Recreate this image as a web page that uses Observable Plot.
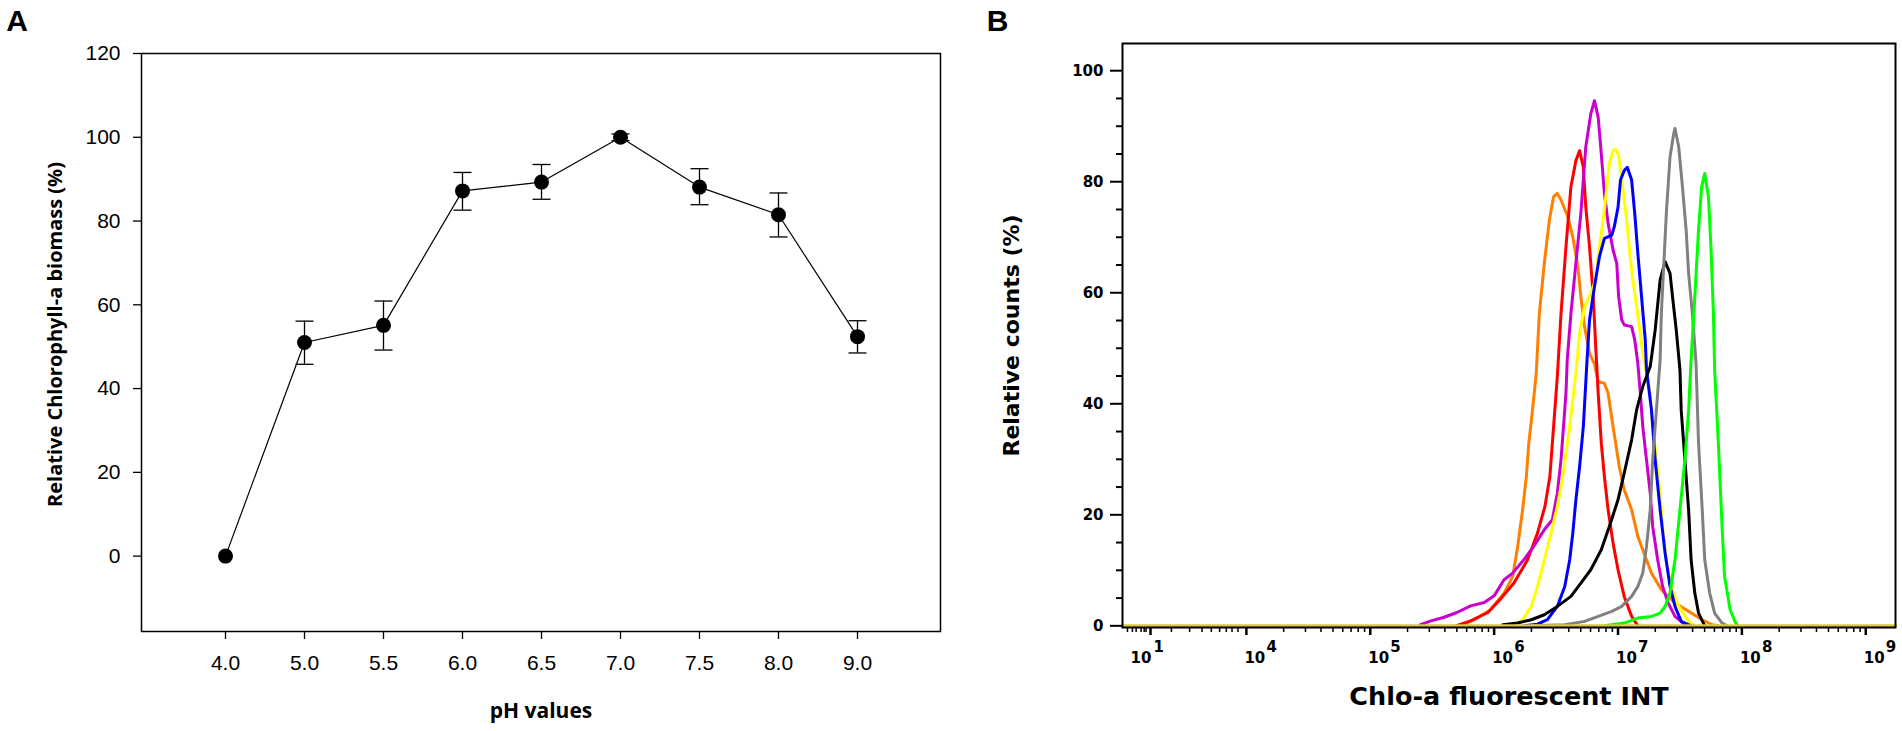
<!DOCTYPE html>
<html>
<head>
<meta charset="utf-8">
<script src="https://cdn.jsdelivr.net/npm/d3@7"></script>
<script src="https://cdn.jsdelivr.net/npm/@observablehq/plot@0.6"></script>
<style>
html, body { margin: 0; padding: 0; background: #fff; overflow: hidden; }
#wrap { display: flex; width: 1902px; height: 731px; }
#wrap svg { display: block; flex: none; max-width: none; }
</style>
</head>
<body>
<div id="wrap"></div>
<script>
// ---------- Panel A data ----------
const phLabels = ["4.0", "5.0", "5.5", "6.0", "6.5", "7.0", "7.5", "8.0", "9.0"];
const biomass  = [0, 51.0, 55.1, 87.2, 89.3, 100, 88.1, 81.5, 52.4];
const errLow   = [null, 45.8, 49.2, 82.6, 85.2, 99.2, 83.9, 76.2, 48.5];
const errHigh  = [null, 56.1, 60.9, 91.6, 93.5, 100.8, 92.5, 86.7, 56.2];
const yTicksA  = [0, 20, 40, 60, 80, 100, 120];

// ---------- Panel B data (x = log10 of fluorescence, y = relative counts %) ----------
const orange = [[5.73,0],[5.84,1.1],[5.97,2.9],[6.08,5.9],[6.15,8.9],[6.19,14.3],[6.23,20.9],[6.26,26.9],[6.28,32.9],[6.31,38.9],[6.34,45.5],[6.365,56.3],[6.405,65.3],[6.446,73.1],[6.48,77.3],[6.51,77.9],[6.54,76.7],[6.595,73.7],[6.635,70.1],[6.676,64.7],[6.70,59.3],[6.73,53.9],[6.77,49.1],[6.81,47.2],[6.84,44.0],[6.89,43.7],[6.92,41.9],[6.96,35.9],[7.01,28.7],[7.05,24.5],[7.11,20.9],[7.16,16.1],[7.22,12.5],[7.27,9.5],[7.35,6.5],[7.46,4.1],[7.57,2.6],[7.68,1.1],[7.76,0.2],[7.81,0]];
const red = [[5.69,0],[5.81,0.9],[5.95,2.4],[6.05,4.8],[6.16,7.7],[6.27,11.9],[6.35,16.7],[6.41,21.5],[6.45,26.9],[6.47,32.9],[6.49,38.9],[6.51,44.9],[6.54,56.3],[6.58,68.3],[6.62,79.1],[6.66,83.8],[6.69,85.6],[6.72,82.6],[6.74,75.4],[6.77,68.3],[6.80,59.3],[6.82,50.3],[6.84,41.9],[6.865,32.9],[6.89,26.9],[6.92,20.9],[6.96,14.9],[7.0,10.1],[7.05,5.3],[7.11,1.7],[7.16,0]];
const magenta = [[5.405,0.2],[5.49,0.9],[5.59,1.5],[5.70,2.4],[5.81,3.6],[5.92,4.2],[6.0,5.4],[6.08,8.3],[6.15,9.5],[6.24,11.9],[6.32,14.3],[6.405,17.3],[6.47,19.1],[6.51,23.9],[6.54,29.9],[6.56,35.9],[6.58,41.9],[6.59,47.9],[6.62,56.3],[6.66,65.3],[6.70,74.3],[6.74,86.3],[6.78,92.2],[6.81,94.6],[6.84,91.6],[6.865,85.0],[6.89,77.9],[6.92,72.5],[6.96,67.7],[6.99,65.3],[7.005,59.3],[7.03,55.1],[7.05,54.2],[7.11,53.9],[7.135,51.5],[7.16,47.3],[7.18,41.9],[7.2,35.9],[7.23,29.9],[7.26,23.9],[7.28,17.9],[7.32,11.9],[7.36,7.1],[7.405,4.1],[7.46,1.7],[7.54,0.2],[7.59,0]];
const yellow = [[6.15,0],[6.23,1.1],[6.30,3.5],[6.35,7.1],[6.405,11.9],[6.46,16.7],[6.51,21.5],[6.55,26.3],[6.58,31.1],[6.61,35.9],[6.635,40.7],[6.66,45.5],[6.69,52.7],[6.73,57.5],[6.78,59.9],[6.82,62.3],[6.85,68.3],[6.88,73.1],[6.905,77.9],[6.93,83.2],[6.96,85.6],[6.98,85.9],[7.005,84.8],[7.03,80.3],[7.07,73.1],[7.095,67.1],[7.12,62.3],[7.15,57.5],[7.18,52.7],[7.20,49.1],[7.23,45.5],[7.26,41.9],[7.28,35.9],[7.31,29.9],[7.34,23.9],[7.36,17.9],[7.39,11.9],[7.43,7.1],[7.49,3.5],[7.57,0.8],[7.62,0]];
const blue = [[6.24,0],[6.35,0.3],[6.43,1.1],[6.51,3.5],[6.57,7.1],[6.61,11.9],[6.635,16.7],[6.66,22.7],[6.69,28.7],[6.72,35.9],[6.735,41.9],[6.75,47.9],[6.77,55.1],[6.81,61.1],[6.85,66.5],[6.89,69.8],[6.95,70.4],[6.97,71.9],[7.0,75.4],[7.02,80.3],[7.05,82.0],[7.075,82.6],[7.11,80.3],[7.135,74.3],[7.16,67.1],[7.19,59.3],[7.22,51.5],[7.23,46.1],[7.27,38.9],[7.30,29.9],[7.34,20.9],[7.38,13.1],[7.42,7.1],[7.46,3.5],[7.51,0.8],[7.59,0]];
const black = [[6.07,0.2],[6.19,0.5],[6.30,1.1],[6.405,2.0],[6.51,3.5],[6.62,5.3],[6.70,7.7],[6.78,10.1],[6.865,13.7],[6.93,17.9],[7.0,22.7],[7.05,27.5],[7.11,33.5],[7.15,38.9],[7.20,43.1],[7.26,46.7],[7.30,53.3],[7.34,62.3],[7.38,65.6],[7.42,63.5],[7.44,59.3],[7.47,53.3],[7.50,46.1],[7.51,38.9],[7.54,29.9],[7.57,20.9],[7.59,11.9],[7.62,5.9],[7.65,2.3],[7.70,0]];
const gray = [[6.30,0],[6.57,0.2],[6.73,0.8],[6.84,1.7],[6.95,2.6],[7.03,3.5],[7.11,5.3],[7.16,7.1],[7.20,9.5],[7.23,14.3],[7.26,20.9],[7.28,29.9],[7.31,38.9],[7.34,47.9],[7.35,56.3],[7.39,74.3],[7.42,84.5],[7.45,88.7],[7.46,89.6],[7.49,86.3],[7.52,79.1],[7.55,71.3],[7.57,63.5],[7.60,56.3],[7.63,47.3],[7.65,32.9],[7.68,20.9],[7.70,11.9],[7.74,5.9],[7.78,2.3],[7.84,0.5],[7.88,0]];
const green = [[6.89,0],[7.05,0.5],[7.16,1.4],[7.27,1.7],[7.34,2.3],[7.38,3.5],[7.42,5.9],[7.46,11.9],[7.50,20.9],[7.54,29.9],[7.57,38.9],[7.59,47.9],[7.62,59.3],[7.65,71.3],[7.675,79.1],[7.70,81.5],[7.73,77.3],[7.75,68.3],[7.77,56.3],[7.78,46.1],[7.81,32.9],[7.84,17.9],[7.86,8.9],[7.905,2.9],[7.95,0.5],[7.97,0]];
const flat = [[3.0,0],[9.24,0]];

const seriesNames  = ["orange", "red", "magenta", "yellow", "blue", "black", "gray", "green", "flat"];
const seriesData   = [orange, red, magenta, yellow, blue, black, gray, green, flat];
const seriesColors = ["#ff8000", "#ff0000", "#cc00cc", "#ffff00", "#0000ff", "#000000", "#808080", "#00ff00", "#d8c840"];

const yMajorB = [0, 20, 40, 60, 80, 100];
const yMinorB = [5, 10, 15, 25, 30, 35, 45, 50, 55, 65, 70, 75, 85, 90, 95];
const xMajorB = [3.226, 4, 5, 6, 7, 8, 9];
const xLabelExp = ["1", "4", "5", "6", "7", "8", "9"];
const xMinorLeft = [3.04, 3.08, 3.11, 3.15, 3.175, 3.19, 3.395, 3.542, 3.642, 3.717, 3.784, 3.838, 3.884, 3.932];

// ---------- Panel A ----------
const rowsA = phLabels.map((p, i) => ({ph: p, v: biomass[i], lo: errLow[i], hi: errHigh[i]}));
const errRows = rowsA.filter(d => d.lo != null);
const capSymbol = {
  draw(ctx, size) {
    const w = Math.sqrt(size / Math.PI);
    ctx.moveTo(-w, 0);
    ctx.lineTo(w, 0);
  }
};

const plotA = Plot.plot({
  width: 960, height: 731,
  marginLeft: 141, marginRight: 20, marginTop: 53, marginBottom: 100,
  style: {fontFamily: "'Liberation Sans', Arial, sans-serif", fontSize: "21px", color: "#000", background: "#fff", overflow: "visible"},
  x: {type: "point", domain: phLabels, padding: 1, axis: null},
  y: {domain: [-18, 120], axis: null},
  marks: [
    Plot.frame({stroke: "#000", strokeWidth: 1.5}),
    Plot.axisY({ticks: yTicksA, tickSize: 8, tickPadding: 13, label: null, strokeWidth: 1.3}),
    Plot.axisX({tickSize: 8, tickPadding: 16, label: null, strokeWidth: 1.3}),
    Plot.ruleX(errRows, {x: "ph", y1: "lo", y2: "hi", stroke: "#000", strokeWidth: 1.3}),
    Plot.dot(errRows, {x: "ph", y: "lo", symbol: capSymbol, r: 9, stroke: "#000", strokeWidth: 1.3, fill: "none"}),
    Plot.dot(errRows, {x: "ph", y: "hi", symbol: capSymbol, r: 9, stroke: "#000", strokeWidth: 1.3, fill: "none"}),
    Plot.line(rowsA, {x: "ph", y: "v", stroke: "#000", strokeWidth: 1.2}),
    Plot.dot(rowsA, {x: "ph", y: "v", r: 7.5, fill: "#000", stroke: "none"}),
    Plot.text(["pH values"], {text: d => d, frameAnchor: "bottom", dy: 80, lineAnchor: "middle", textAnchor: "middle",
      fontFamily: "'Open Sans', sans-serif", fontWeight: "bold", fontSize: 21}),
    Plot.text(["Relative Chlorophyll-a biomass (%)"], {text: d => d, frameAnchor: "left", dx: -86, dy: -8, rotate: -90,
      lineAnchor: "middle", textAnchor: "middle",
      fontFamily: "'Open Sans', sans-serif", fontWeight: "bold", fontSize: 20}),
    Plot.text(["A"], {text: d => d, frameAnchor: "top-left", dx: -124.5, dy: -32, lineAnchor: "middle", textAnchor: "middle",
      fontFamily: "'Liberation Sans', Arial, sans-serif", fontWeight: "bold", fontSize: 30})
  ]
});

// ---------- Panel B ----------
const rowsB = seriesData.flatMap((arr, i) => arr.map(([u, v]) => ({s: seriesNames[i], u, v})));
const xMinorB = [...xMinorLeft];
for (let d = 4; d <= 8; d++) for (let k = 2; k <= 9; k++) xMinorB.push(d + Math.log10(k));
const labelRows = xMajorB.map((u, i) => ({u, exp: xLabelExp[i], first: i === 0}));

const fontB = "'DejaVu Sans', Verdana, sans-serif";
const plotB = Plot.plot({
  width: 942, height: 731,
  marginLeft: 162, marginRight: 7, marginTop: 43, marginBottom: 104,
  style: {fontFamily: fontB, fontSize: "15px", fontWeight: "bold", color: "#000", background: "#fff", overflow: "visible"},
  x: {domain: [3.0, 9.24], axis: null},
  y: {domain: [-0.3, 104.9], axis: null},
  color: {domain: seriesNames, range: seriesColors},
  marks: [
    Plot.line(rowsB, {x: "u", y: "v", z: "s", stroke: "s", strokeWidth: 3, strokeLinejoin: "round"}),
    Plot.frame({stroke: "#000", strokeWidth: 2}),
    Plot.axisY({ticks: yMajorB, tickSize: 12, tickPadding: 7, strokeWidth: 2, label: null}),
    Plot.axisY({ticks: yMinorB, tickSize: 6, strokeWidth: 2, fill: "none", label: null}),
    Plot.axisX({ticks: xMajorB, tickSize: 8, strokeWidth: 2.5, fill: "none", label: null}),
    Plot.axisX({ticks: xMinorB, tickSize: 5, strokeWidth: 1.5, fill: "none", label: null}),
    Plot.text(labelRows.filter(d => !d.first), {x: "u", text: () => "10", frameAnchor: "bottom", dy: 31, dx: -2, textAnchor: "start", lineAnchor: "middle"}),
    Plot.text(labelRows.filter(d => !d.first), {x: "u", text: "exp", frameAnchor: "bottom", dy: 20, dx: 20, textAnchor: "start", lineAnchor: "middle"}),
    Plot.text(labelRows.filter(d => d.first), {x: "u", text: () => "10", frameAnchor: "bottom", dy: 31, dx: 1, textAnchor: "end", lineAnchor: "middle"}),
    Plot.text(labelRows.filter(d => d.first), {x: "u", text: "exp", frameAnchor: "bottom", dy: 20, dx: 3, textAnchor: "start", lineAnchor: "middle"}),
    Plot.text(["Chlo-a fluorescent INT"], {text: d => d, frameAnchor: "bottom", dy: 69, lineAnchor: "middle", textAnchor: "middle", fontSize: 25.5}),
    Plot.text(["Relative counts (%)"], {text: d => d, frameAnchor: "left", dx: -111, rotate: -90, lineAnchor: "middle", textAnchor: "middle", fontSize: 22}),
    Plot.text(["B"], {text: d => d, frameAnchor: "top-left", dx: -125, dy: -22, lineAnchor: "middle", textAnchor: "middle",
      fontFamily: "'Liberation Sans', Arial, sans-serif", fontSize: 30})
  ]
});

const wrap = document.getElementById("wrap");
wrap.appendChild(plotA);
wrap.appendChild(plotB);
</script>
</body>
</html>
